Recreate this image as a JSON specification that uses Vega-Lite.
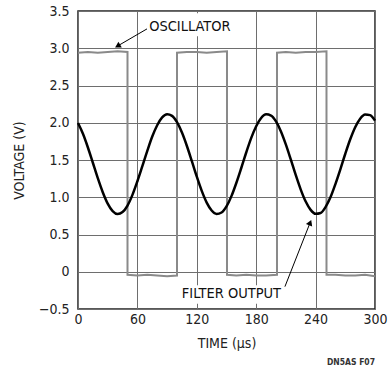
{
  "$schema": "https://vega.github.io/schema/vega-lite/v6.json",
  "autosize": "none",
  "width": 297,
  "height": 298,
  "padding": {"left": 78, "top": 11, "right": 16, "bottom": 60},
  "background": "white",
  "config": {
    "font": "DejaVu Sans Condensed, Liberation Sans Narrow, sans-serif",
    "view": {"stroke": "#222", "strokeWidth": 1.5},
    "axis": {"labelFont": "DejaVu Sans Condensed, Liberation Sans Narrow, sans-serif", "titleFont": "DejaVu Sans Condensed, Liberation Sans Narrow, sans-serif", "labelFontSize": 14, "titleFontSize": 14, "labelColor": "#222", "titleColor": "#222", "titleFontWeight": "normal", "ticks": false, "domain": false, "gridColor": "#6e6e6e", "gridWidth": 1, "gridOpacity": 1, "labelOverlap": false, "labelFlush": false}
  },
  "title": {"text": "DN5AS F07", "orient": "bottom", "anchor": "end", "frame": "group", "fontSize": 8.5, "fontWeight": "bold", "font": "DejaVu Sans Condensed, Liberation Sans Narrow, sans-serif", "color": "#333", "offset": 8},
  "datasets": {
    "filter": [
      {"t": 0, "v": 1.996}, {"t": 5, "v": 1.852}, {"t": 10, "v": 1.668}, {"t": 15, "v": 1.463}, {"t": 20, "v": 1.256}, {"t": 25, "v": 1.068}, {"t": 30, "v": 0.915}, {"t": 35, "v": 0.815}, {"t": 40, "v": 0.775}, {"t": 45, "v": 0.801}, {"t": 50, "v": 0.889}, {"t": 55, "v": 1.032}, {"t": 60, "v": 1.215}, {"t": 65, "v": 1.417}, {"t": 70, "v": 1.623}, {"t": 75, "v": 1.815}, {"t": 80, "v": 1.967}, {"t": 85, "v": 2.072}, {"t": 90, "v": 2.114}, {"t": 95, "v": 2.092},
      {"t": 100, "v": 2.007}, {"t": 105, "v": 1.868}, {"t": 110, "v": 1.688}, {"t": 115, "v": 1.484}, {"t": 120, "v": 1.276}, {"t": 125, "v": 1.085}, {"t": 130, "v": 0.928}, {"t": 135, "v": 0.822}, {"t": 140, "v": 0.776}, {"t": 145, "v": 0.795}, {"t": 150, "v": 0.877}, {"t": 155, "v": 1.015}, {"t": 160, "v": 1.195}, {"t": 165, "v": 1.396}, {"t": 170, "v": 1.604}, {"t": 175, "v": 1.797}, {"t": 180, "v": 1.953}, {"t": 185, "v": 2.063}, {"t": 190, "v": 2.113}, {"t": 195, "v": 2.097},
      {"t": 200, "v": 2.018}, {"t": 205, "v": 1.884}, {"t": 210, "v": 1.707}, {"t": 215, "v": 1.505}, {"t": 220, "v": 1.296}, {"t": 225, "v": 1.103}, {"t": 230, "v": 0.942}, {"t": 235, "v": 0.831}, {"t": 240, "v": 0.778}, {"t": 245, "v": 0.789}, {"t": 250, "v": 0.867}, {"t": 255, "v": 0.999}, {"t": 260, "v": 1.177}, {"t": 265, "v": 1.375}, {"t": 270, "v": 1.584}, {"t": 275, "v": 1.778}, {"t": 280, "v": 1.94}, {"t": 285, "v": 2.055}, {"t": 290, "v": 2.111}, {"t": 295, "v": 2.102}, {"t": 300, "v": 2.029}
    ],
    "osc": [
      {"i": 0, "t": 0, "v": 2.94}, {"i": 1, "t": 10, "v": 2.95}, {"i": 2, "t": 20, "v": 2.94}, {"i": 3, "t": 30, "v": 2.95}, {"i": 4, "t": 40, "v": 2.96}, {"i": 5, "t": 50, "v": 2.95},
      {"i": 6, "t": 50, "v": -0.04}, {"i": 7, "t": 60, "v": -0.05}, {"i": 8, "t": 70, "v": -0.04}, {"i": 9, "t": 80, "v": -0.05}, {"i": 10, "t": 90, "v": -0.06}, {"i": 11, "t": 100, "v": -0.05},
      {"i": 12, "t": 100, "v": 2.94}, {"i": 13, "t": 110, "v": 2.95}, {"i": 14, "t": 120, "v": 2.95}, {"i": 15, "t": 130, "v": 2.94}, {"i": 16, "t": 140, "v": 2.95}, {"i": 17, "t": 150.5, "v": 2.96},
      {"i": 18, "t": 150.5, "v": -0.04}, {"i": 19, "t": 160, "v": -0.05}, {"i": 20, "t": 170, "v": -0.04}, {"i": 21, "t": 180, "v": -0.05}, {"i": 22, "t": 190, "v": -0.05}, {"i": 23, "t": 201, "v": -0.04},
      {"i": 24, "t": 201, "v": 2.94}, {"i": 25, "t": 210, "v": 2.95}, {"i": 26, "t": 220, "v": 2.94}, {"i": 27, "t": 230, "v": 2.95}, {"i": 28, "t": 240, "v": 2.95}, {"i": 29, "t": 251, "v": 2.96},
      {"i": 30, "t": 251, "v": -0.04}, {"i": 31, "t": 260, "v": -0.04}, {"i": 32, "t": 270, "v": -0.05}, {"i": 33, "t": 280, "v": -0.05}, {"i": 34, "t": 290, "v": -0.04}, {"i": 35, "t": 300, "v": -0.06}
    ],
    "labels": [
      {"label": "OSCILLATOR", "t": 113, "v": 3.285, "x1": 69, "x2": 158, "y1": 3.47, "y2": 3.16},
      {"label": "FILTER OUTPUT", "t": 155, "v": -0.3, "x1": 102, "x2": 208, "y1": -0.18, "y2": -0.43}
    ],
    "arrows": [
      {"t": 69.7, "v": 3.26, "t2": 40, "v2": 3.03, "ang": 240},
      {"t": 209, "v": -0.2, "t2": 234.5, "v2": 0.66, "ang": 22}
    ]
  },
  "layer": [
    {
      "data": {"name": "labels"},
      "mark": {"type": "rect", "fill": "white"},
      "encoding": {
        "x": {"field": "x1", "type": "quantitative", "scale": {"domain": [0, 300], "nice": false}, "axis": {"values": [0, 60, 120, 180, 240, 300], "tickCount": 10, "title": "TIME (µs)", "labelPadding": 3, "titlePadding": 10, "grid": true}},
        "x2": {"field": "x2"},
        "y": {"field": "y1", "type": "quantitative", "scale": {"domain": [-0.5, 3.5], "nice": false}, "axis": {"values": [-0.5, 0, 0.5, 1, 1.5, 2, 2.5, 3, 3.5], "tickCount": 12, "title": "VOLTAGE (V)", "labelExpr": "datum.value == 0 ? '0' : format(datum.value, '.1f')", "labelPadding": 9, "titlePadding": 12, "grid": true}},
        "y2": {"field": "y2"}
      }
    },
    {
      "data": {"name": "osc"},
      "mark": {"type": "line", "color": "#8a8a8a", "strokeWidth": 2},
      "encoding": {
        "x": {"field": "t", "type": "quantitative"},
        "y": {"field": "v", "type": "quantitative"},
        "order": {"field": "i", "type": "quantitative"}
      }
    },
    {
      "data": {"name": "filter"},
      "mark": {"type": "line", "color": "#000", "strokeWidth": 2.5, "interpolate": "monotone"},
      "encoding": {
        "x": {"field": "t", "type": "quantitative"},
        "y": {"field": "v", "type": "quantitative"}
      }
    },
    {
      "data": {"name": "arrows"},
      "mark": {"type": "rule", "color": "#000", "strokeWidth": 1},
      "encoding": {
        "x": {"field": "t", "type": "quantitative"},
        "y": {"field": "v", "type": "quantitative"},
        "x2": {"field": "t2"},
        "y2": {"field": "v2"}
      }
    },
    {
      "data": {"name": "arrows"},
      "mark": {"type": "point", "shape": "triangle-up", "filled": true, "color": "#000", "size": 45, "opacity": 1},
      "encoding": {
        "x": {"field": "t2", "type": "quantitative"},
        "y": {"field": "v2", "type": "quantitative"},
        "angle": {"field": "ang", "type": "quantitative", "scale": null}
      }
    },
    {
      "data": {"name": "labels"},
      "mark": {"type": "text", "fontSize": 14.5, "color": "#111", "font": "DejaVu Sans Condensed, Liberation Sans Narrow, sans-serif"},
      "encoding": {
        "x": {"field": "t", "type": "quantitative"},
        "y": {"field": "v", "type": "quantitative"},
        "text": {"field": "label"}
      }
    }
  ]
}
